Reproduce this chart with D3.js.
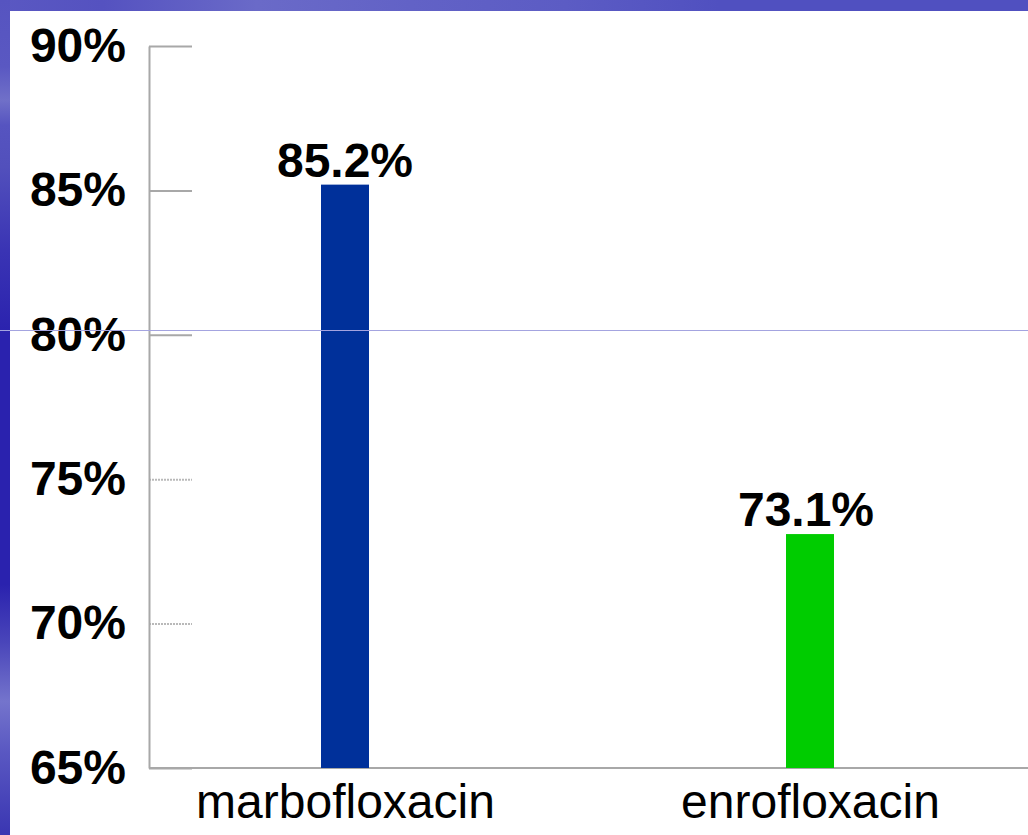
<!DOCTYPE html>
<html>
<head>
<meta charset="utf-8">
<script src="https://cdn.jsdelivr.net/npm/d3@7"></script>
<style>
  html, body { margin: 0; padding: 0; background: #ffffff; }
  svg { display: block; }
  text { font-family: "Liberation Sans", Arial, Helvetica, sans-serif; fill: #000; }
</style>
</head>
<body>
<script>
// Response rates by antibiotic
const drugs = ["marbofloxacin", "enrofloxacin"];
const rates = [85.2, 73.1];
const barColors = ["#00309a", "#00cc00"];
const tickValues = [65, 70, 75, 80, 85, 90];
const dottedTicks = [70, 75];

const W = 1028, H = 835;
const svg = d3.select("body").append("svg")
  .attr("width", W).attr("height", H);

// Slide background: blue frame along the top and left edges
const defs = svg.append("defs");
const topGrad = defs.append("linearGradient").attr("id", "topBand")
  .attr("x1", 0).attr("x2", 1).attr("y1", 0).attr("y2", 0);
[[0, "#5a58c2"], [0.1, "#5552c0"], [0.25, "#6a6ac8"], [0.4, "#6262c6"],
 [0.55, "#5c5cc4"], [0.7, "#5050c0"], [1, "#5050c0"]]
  .forEach(([o, c]) => topGrad.append("stop").attr("offset", o).attr("stop-color", c));

const leftGrad = defs.append("linearGradient").attr("id", "leftBand")
  .attr("x1", 0).attr("x2", 0).attr("y1", 0).attr("y2", 1);
[[0, "#5654c0"], [0.08, "#5a58c2"], [0.12, "#7070c8"], [0.15, "#5654c0"],
 [0.2, "#5250bc"], [0.3, "#3a34b4"], [0.4, "#2a22ae"], [0.7, "#2a22ae"],
 [0.77, "#4a46ba"], [0.84, "#7474cc"], [0.9, "#5a58c2"], [1, "#3a36b2"]]
  .forEach(([o, c]) => leftGrad.append("stop").attr("offset", o).attr("stop-color", c));

svg.append("rect").attr("x", 0).attr("y", 0).attr("width", W).attr("height", H).attr("fill", "#ffffff");
svg.append("rect").attr("x", 0).attr("y", 0).attr("width", W).attr("height", 11).attr("fill", "url(#topBand)");
svg.append("rect").attr("x", 0).attr("y", 0).attr("width", 10).attr("height", H).attr("fill", "url(#leftBand)");

// Scales
const y = d3.scaleLinear().domain([65, 90]).range([768, 46]);
const x = d3.scalePoint().domain(drugs).range([345, 810]);
const barW = 48;
const axisX = 149;

// Y axis: ticks point into the plot, labels on the left
const yAxis = d3.axisLeft(y)
  .tickValues(tickValues)
  .tickFormat(d => d + "%")
  .tickSizeInner(-43)
  .tickSizeOuter(0)
  .tickPadding(23);

const gy = svg.append("g").attr("transform", `translate(${axisX},0)`).call(yAxis);
gy.select(".domain").attr("stroke", "#a8a8a8").attr("stroke-width", 2);
gy.selectAll(".tick line")
  .attr("stroke", "#a8a8a8").attr("stroke-width", 2)
  .attr("stroke-dasharray", d => dottedTicks.includes(d) ? "2,1" : null)
  .attr("stroke-opacity", d => dottedTicks.includes(d) ? 0.8 : 1);
gy.selectAll(".tick text")
  .attr("font-size", 48).attr("font-weight", "bold")
  .attr("fill", "#000").attr("dy", "0.32em");

// Baseline across the plot
svg.append("line")
  .attr("x1", axisX).attr("x2", W)
  .attr("y1", y(65)).attr("y2", y(65))
  .attr("stroke", "#a8a8a8").attr("stroke-width", 2);

// Bars
svg.selectAll("rect.bar").data(drugs).join("rect")
  .attr("class", "bar")
  .attr("x", d => x(d) - barW / 2)
  .attr("width", barW)
  .attr("y", (d, i) => y(rates[i]))
  .attr("height", (d, i) => y(65) - y(rates[i]))
  .attr("fill", (d, i) => barColors[i]);

// Value labels
svg.selectAll("text.value").data(drugs).join("text")
  .attr("class", "value")
  .attr("x", (d, i) => x(d) + (i === 1 ? -4 : 0))
  .attr("y", (d, i) => y(rates[i]) - 8)
  .attr("text-anchor", "middle")
  .attr("font-size", 48).attr("font-weight", "bold")
  .text((d, i) => rates[i].toFixed(1) + "%");

// Category axis
const xAxis = d3.axisBottom(x).tickSize(0).tickPadding(16);
const gx = svg.append("g").attr("transform", `translate(0,${y(65)})`).call(xAxis);
gx.select(".domain").remove();
gx.selectAll(".tick text")
  .attr("font-size", 48).attr("fill", "#000");

// Thin guide line across the slide
svg.append("line")
  .attr("x1", 0).attr("x2", W).attr("y1", 330.5).attr("y2", 330.5)
  .attr("stroke", "#a4a4e0").attr("stroke-width", 1);
</script>
</body>
</html>
